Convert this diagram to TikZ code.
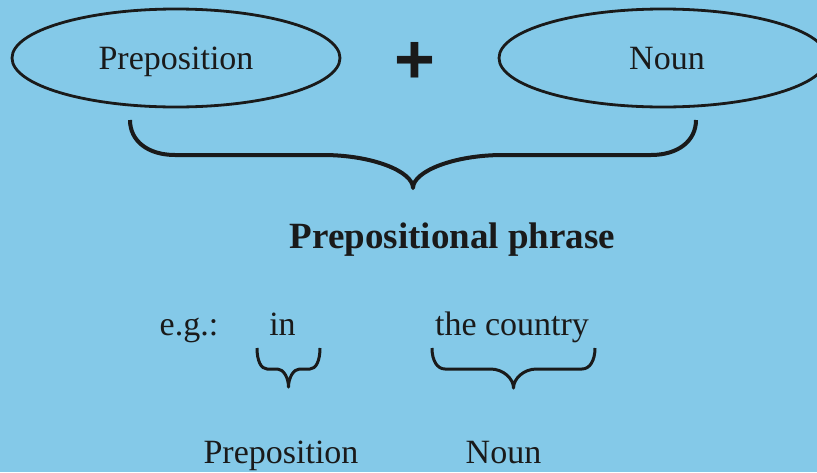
\documentclass[tikz,border=0pt]{standalone}
\usepackage{fontspec}
\setmainfont{Liberation Serif}
\newfontfamily\plusfont{Liberation Sans}
\usetikzlibrary{shapes.geometric}

\definecolor{skyback}{RGB}{132,201,232}
\definecolor{inkgray}{RGB}{26,26,26}

% curly brace opening upwards: width, left x, right x, top y, line y, tip y, end bend, middle bend
\newcommand{\phrasebrace}[8]{%
  \pgfmathsetmacro{\bmid}{(#2+#3)/2}
  \draw[line width=#1,color=inkgray,line join=round]
    (#2,#4) .. controls (#2,{#4+0.6*(#5-#4)}) and ({#2+0.4*#7},#5) .. ({#2+#7},#5)
    -- ({\bmid-#8},#5) .. controls ({\bmid-0.45*#8},#5) and (\bmid,{#5+0.5*(#6-#5)}) .. (\bmid,#6)
    .. controls (\bmid,{#5+0.5*(#6-#5)}) and ({\bmid+0.45*#8},#5) .. ({\bmid+#8},#5)
    -- ({#3-#7},#5) .. controls ({#3-0.4*#7},#5) and (#3,{#4+0.6*(#5-#4)}) .. (#3,#4);
}

\begin{document}
\begin{tikzpicture}[x=1pt,y=-1pt,
  every node/.style={font=\fontsize{34}{40}\selectfont,text=inkgray},
  word oval/.style={ellipse,draw=inkgray,line width=2.8pt,minimum width=328,minimum height=98,inner sep=0,text depth=0pt}]

\path[use as bounding box,fill=skyback] (0,0) rectangle (817,472);

\node[word oval] (prep) at (176,58) {Preposition};
\node[word oval] (noun) at (663,58) {\hspace*{8pt}Noun};
\node[font=\fontsize{70}{70}\plusfont\bfseries] (plus) at (414.5,62.5) {+};

\phrasebrace{4pt}{130}{696}{120}{155}{188}{45}{90}

\node[anchor=base,font=\fontsize{37}{44}\selectfont\bfseries] (phrase) at (452.5,248) {Prepositional phrase};

\node[anchor=base] (eg) at (189,335) {e.g.:};
\node[anchor=base] (in) at (282.5,335) {in};
\node[anchor=base] (country) at (512,335) {the country};

\phrasebrace{3pt}{257}{320}{348}{369}{387}{10}{11}
\phrasebrace{3pt}{432}{595}{348}{369}{388}{13}{23}

\node[anchor=base] (lprep) at (281,463) {Preposition};
\node[anchor=base] (lnoun) at (503.5,463) {Noun};

\end{tikzpicture}
\end{document}
